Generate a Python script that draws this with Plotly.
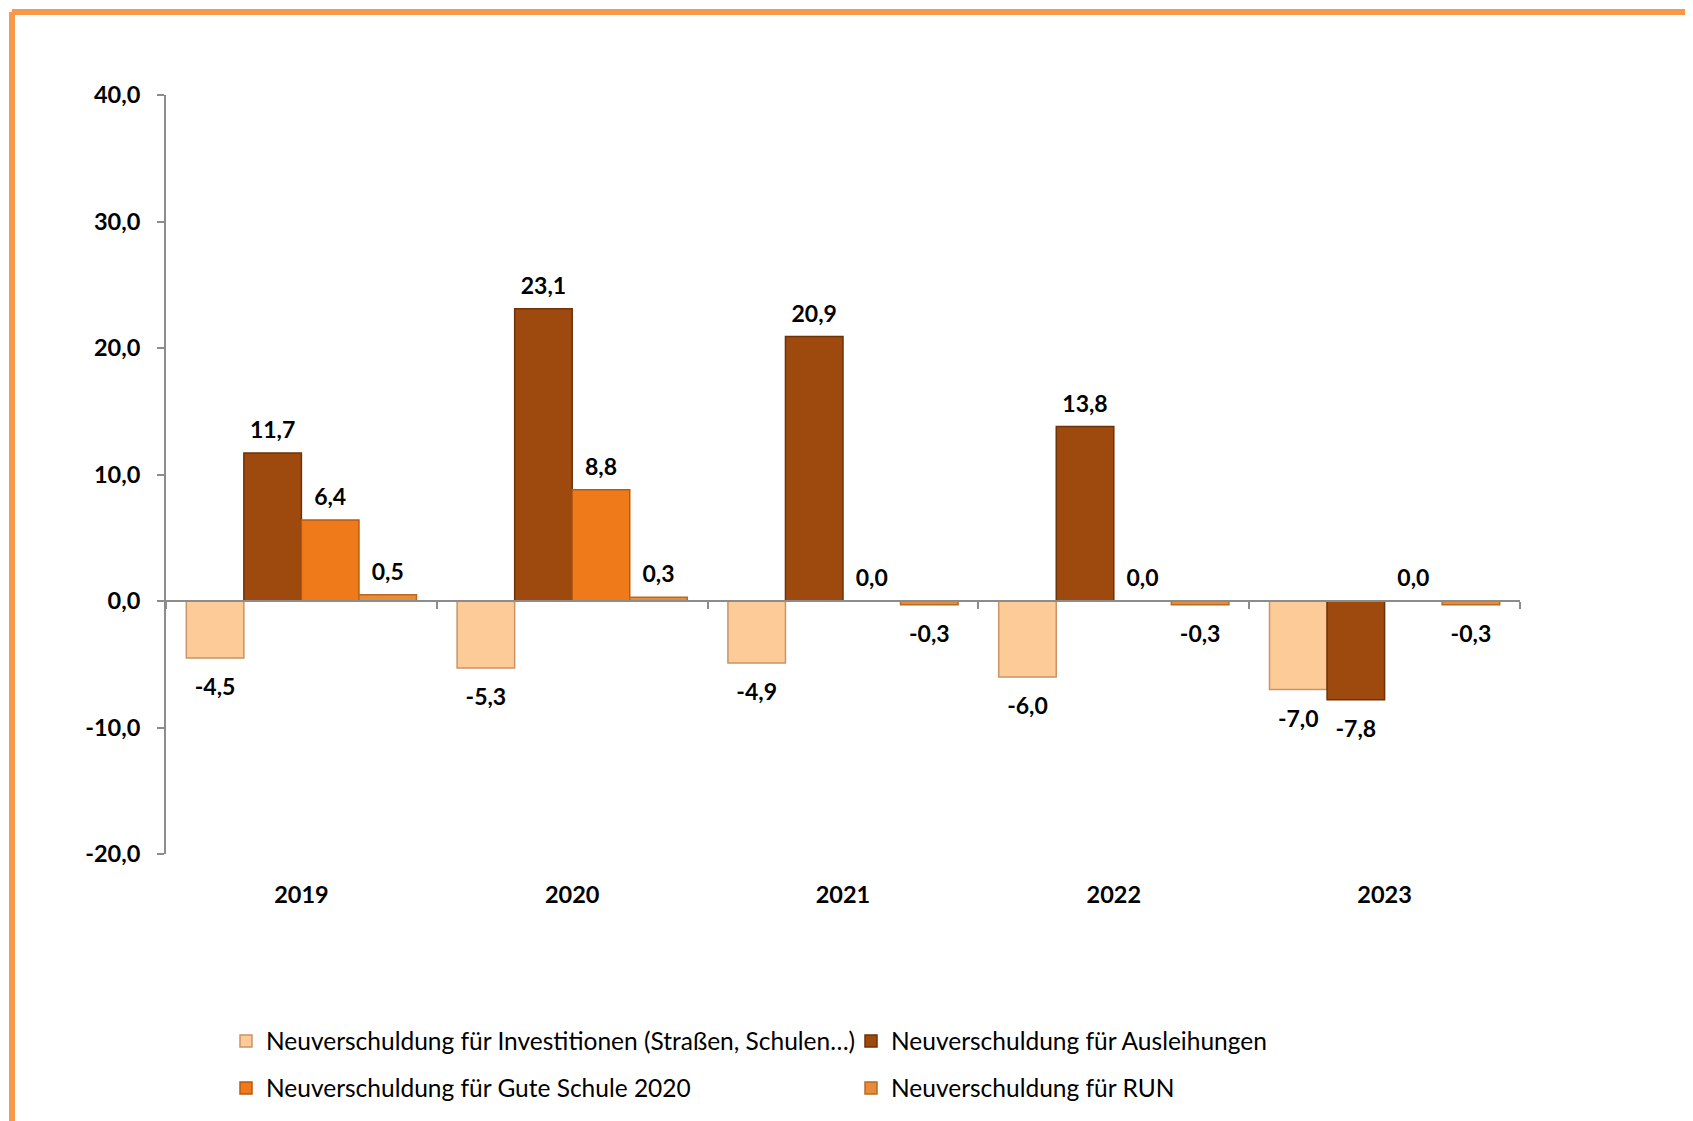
import plotly.graph_objects as go

years = ["2019", "2020", "2021", "2022", "2023"]
invest = [-4.5, -5.3, -4.9, -6.0, -7.0]
ausleihungen = [11.7, 23.1, 20.9, 13.8, -7.8]
gute_schule = [6.4, 8.8, 0.0, 0.0, 0.0]
run = [0.5, 0.3, -0.3, -0.3, -0.3]

series_names = [
    "Neuverschuldung für Investitionen (Straßen, Schulen…)",
    "Neuverschuldung für Ausleihungen",
    "Neuverschuldung für Gute Schule 2020",
    "Neuverschuldung für RUN",
]
series_values = [invest, ausleihungen, gute_schule, run]
series_colors = ["#FDCB98", "#9E4A0E", "#EF7A19", "#E68C3A"]
series_lines = ["#C99466", "#6E3208", "#B85A10", "#B86A25"]
legend_of = ["legend", "legend", "legend2", "legend2"]

y_ticks = [-20, -10, 0, 10, 20, 30, 40]

W, H = 1693, 1121
ML, MT = 158, 87
PW, PH = 1354, 759
MR, MB = W - ML - PW, H - MT - PH

def fmt(v):
    return f"{v:.1f}".replace(".", ",")

fig = go.Figure()
for i, (name, vals, col, lc) in enumerate(zip(series_names, series_values, series_colors, series_lines)):
    fig.add_trace(go.Bar(
        x=years, y=vals, name=name, offsetgroup=str(i),
        marker=dict(color=col, line=dict(color=lc, width=1.5)),
        textposition="none", legend=legend_of[i],
    ))
for i, vals in enumerate(series_values):
    fig.add_trace(go.Scatter(
        x=years, y=vals, offsetgroup=str(i), mode="markers+text",
        marker=dict(size=[13 if v >= 0 else 30 for v in vals], color="rgba(0,0,0,0)",
                    opacity=0, line=dict(width=0, color="rgba(0,0,0,0)")),
        text=[fmt(v) for v in vals],
        textposition=["top center" if v >= 0 else "bottom center" for v in vals],
        textfont=dict(family="Lato", size=23, color="#000000", weight="bold"),
        cliponaxis=False, showlegend=False, hoverinfo="skip",
    ))

# helper trace for the zero-line axis
fig.add_trace(go.Scatter(x=years, y=[0] * len(years), xaxis="x2", mode="none",
                         showlegend=False, hoverinfo="skip"))

leg_common = dict(orientation="h", x=218 / PW - ML / PW, xanchor="left", yanchor="middle",
                  entrywidth=580, entrywidthmode="pixels",
                  font=dict(family="Lato", size=24.5, color="#000"), traceorder="normal",
                  itemwidth=30, bgcolor="rgba(0,0,0,0)")

fig.update_layout(
    width=W, height=H,
    margin=dict(l=ML, r=MR, t=MT, b=MB),
    paper_bgcolor="white", plot_bgcolor="white",
    barmode="group", bargap=0.15, bargroupgap=0.0,
    scattermode="group", scattergap=0.15,
    separators=",.",
    font=dict(family="Lato", color="#000000"),
    xaxis=dict(
        type="category", showline=False, ticks="", showgrid=False, zeroline=False,
        tickfont=dict(family="Lato", size=23.5, color="#000", weight="bold"),
        ticklabelstandoff=24,
    ),
    xaxis2=dict(
        type="category", overlaying="x", anchor="free", position=(0 - y_ticks[0]) / (y_ticks[-1] - y_ticks[0]),
        side="bottom", showline=True, linecolor="#8C8C8C", linewidth=2,
        ticks="outside", tickson="boundaries", ticklen=7, tickcolor="#8C8C8C", tickwidth=2,
        showticklabels=False, showgrid=False, zeroline=False, matches="x",
    ),
    yaxis=dict(
        range=[y_ticks[0], y_ticks[-1]], tickvals=y_ticks, ticktext=[fmt(v) for v in y_ticks],
        showline=True, linecolor="#8C8C8C", linewidth=2, ticks="outside", ticklen=7,
        tickcolor="#8C8C8C", tickwidth=2, showgrid=False, zeroline=False,
        tickfont=dict(family="Lato", size=23.5, color="#000", weight="bold"),
        ticklabelstandoff=12,
    ),
    legend=dict(**leg_common, y=(MT + PH - 1033) / PH),
    legend2=dict(**leg_common, y=(MT + PH - 1080) / PH),
    showlegend=True,
)

# orange frame (top and left edge)
bx = (4 - ML) / PW
by = 1 + (MT - 4) / PH
fig.add_shape(type="line", xref="paper", yref="paper", x0=bx, x1=(W - ML) / PW, y0=by, y1=by,
              line=dict(color="#F7984A", width=6))
fig.add_shape(type="line", xref="paper", yref="paper", x0=bx, x1=bx, y0=by, y1=-(MB + 5) / PH,
              line=dict(color="#F7984A", width=6))

fig.write_html("out.html")
